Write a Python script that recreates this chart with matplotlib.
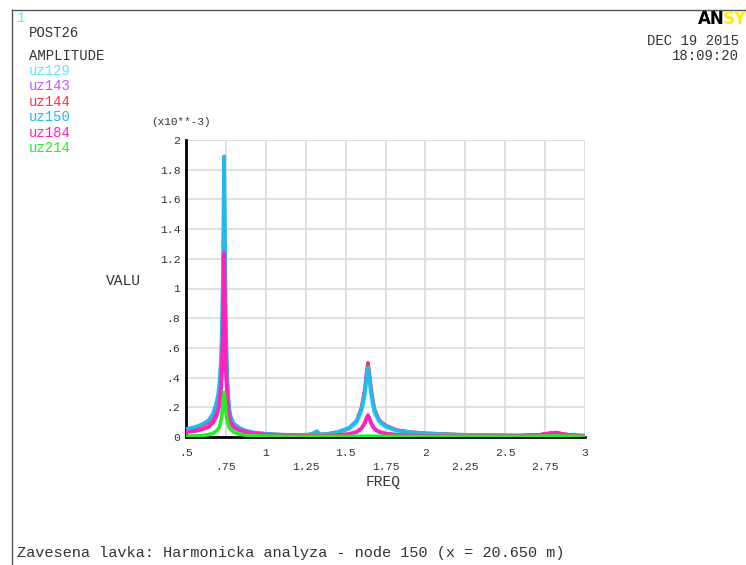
import matplotlib.pyplot as plt

# frequency points (denser near the peaks)
freq = [0.50, 0.55, 0.60, 0.64, 0.67, 0.69, 0.70, 0.71, 0.72, 0.725, 0.73, 0.735, 0.739, 0.743,
        0.75, 0.76, 0.77, 0.78, 0.80, 0.83, 0.87, 0.92, 1.00, 1.10, 1.20, 1.27, 1.30, 1.32, 1.34,
        1.38, 1.45, 1.52, 1.57, 1.60, 1.62, 1.63, 1.64, 1.65, 1.66, 1.68, 1.71, 1.75, 1.82, 1.90,
        2.00, 2.20, 2.40, 2.60, 2.72, 2.78, 2.82, 2.86, 2.92, 3.00]

# amplitudes in units of 1e-3
uz129 = [0.050, 0.058, 0.075, 0.097, 0.14, 0.20, 0.245, 0.32, 0.48, 0.65, 0.90, 1.20, 1.30, 1.15,
         0.62, 0.32, 0.17, 0.12, 0.08, 0.057, 0.040, 0.028, 0.019, 0.014, 0.012, 0.014, 0.022, 0.032, 0.015,
         0.017, 0.030, 0.052, 0.095, 0.17, 0.27, 0.36, 0.43, 0.36, 0.27, 0.16, 0.10, 0.066, 0.040, 0.029,
         0.022, 0.014, 0.011, 0.009, 0.011, 0.014, 0.016, 0.012, 0.009, 0.007]
uz143 = [0.033, 0.038, 0.050, 0.065, 0.095, 0.135, 0.165, 0.22, 0.32, 0.43, 0.60, 0.85, 1.00, 0.82,
         0.42, 0.21, 0.12, 0.09, 0.062, 0.046, 0.032, 0.023, 0.016, 0.011, 0.009, 0.008, 0.008, 0.009, 0.006,
         0.008, 0.011, 0.019, 0.033, 0.057, 0.09, 0.118, 0.14, 0.118, 0.09, 0.054, 0.033, 0.023, 0.014, 0.010,
         0.008, 0.006, 0.006, 0.008, 0.014, 0.024, 0.028, 0.019, 0.011, 0.008]
uz144 = [0.050, 0.060, 0.078, 0.10, 0.14, 0.19, 0.23, 0.29, 0.40, 0.52, 0.68, 0.82, 0.85, 0.80,
         0.55, 0.30, 0.17, 0.12, 0.08, 0.058, 0.040, 0.029, 0.020, 0.015, 0.013, 0.015, 0.024, 0.036, 0.016,
         0.019, 0.033, 0.058, 0.11, 0.20, 0.32, 0.42, 0.50, 0.42, 0.32, 0.19, 0.115, 0.078, 0.047, 0.034,
         0.025, 0.016, 0.012, 0.010, 0.015, 0.025, 0.030, 0.020, 0.011, 0.008]
uz150 = [0.055, 0.065, 0.085, 0.11, 0.16, 0.23, 0.28, 0.37, 0.55, 0.75, 1.05, 1.55, 1.89, 1.50,
         0.75, 0.38, 0.20, 0.14, 0.09, 0.065, 0.045, 0.032, 0.022, 0.016, 0.014, 0.017, 0.027, 0.040, 0.018,
         0.020, 0.034, 0.060, 0.11, 0.19, 0.30, 0.40, 0.47, 0.40, 0.30, 0.18, 0.11, 0.075, 0.045, 0.033,
         0.025, 0.016, 0.012, 0.010, 0.012, 0.016, 0.018, 0.013, 0.010, 0.008]
uz184 = [0.035, 0.040, 0.052, 0.068, 0.10, 0.145, 0.18, 0.24, 0.36, 0.49, 0.69, 1.02, 1.24, 1.00,
         0.50, 0.25, 0.14, 0.10, 0.068, 0.050, 0.035, 0.025, 0.017, 0.012, 0.010, 0.008, 0.008, 0.010, 0.006,
         0.008, 0.012, 0.020, 0.035, 0.060, 0.095, 0.125, 0.148, 0.125, 0.095, 0.057, 0.035, 0.024, 0.015, 0.011,
         0.008, 0.006, 0.006, 0.008, 0.015, 0.026, 0.030, 0.020, 0.012, 0.008]
uz214 = [0.005, 0.007, 0.010, 0.015, 0.025, 0.040, 0.050, 0.070, 0.11, 0.15, 0.20, 0.27, 0.30, 0.26,
         0.17, 0.10, 0.065, 0.050, 0.032, 0.020, 0.013, 0.009, 0.006, 0.005, 0.004, 0.004, 0.004, 0.005, 0.004,
         0.004, 0.004, 0.004, 0.005, 0.005, 0.006, 0.006, 0.006, 0.006, 0.006, 0.005, 0.005, 0.004, 0.004, 0.004,
         0.004, 0.004, 0.004, 0.004, 0.005, 0.007, 0.008, 0.006, 0.005, 0.004]

names = ['uz129', 'uz143', 'uz144', 'uz150', 'uz184', 'uz214']
series = [uz129, uz143, uz144, uz150, uz184, uz214]
colors = ['#55EEFF', '#C455FF', '#FF3344', '#22B8F0', '#FF22B8', '#22EE22']

xmajor = [0.5, 1, 1.5, 2, 2.5, 3]
xmajor_lab = ['.5', '1', '1.5', '2', '2.5', '3']
xminor = [0.75, 1.25, 1.75, 2.25, 2.75]
xminor_lab = ['.75', '1.25', '1.75', '2.25', '2.75']
yticks = [0, 0.2, 0.4, 0.6, 0.8, 1.0, 1.2, 1.4, 1.6, 1.8, 2.0]
ylab = ['0', '.2', '.4', '.6', '.8', '1', '1.2', '1.4', '1.6', '1.8', '2']

mono = 'Liberation Mono'
txt = '#333333'

fig = plt.figure(figsize=(7.46, 5.65), dpi=100)
ax = fig.add_axes([186 / 746, 1 - 437 / 565, 399 / 746, 297 / 565])

for s, c in zip(series, colors):
    ax.plot(freq, s, color=c, lw=2.6, solid_joinstyle='round', zorder=3)

ax.set_xlim(0.5, 3)
ax.set_ylim(0, 2)
ax.set_xticks(xmajor, xmajor_lab)
ax.set_xticks(xminor, xminor_lab, minor=True)
ax.set_yticks(yticks, ylab)
ax.tick_params(which='both', length=0, labelsize=8.2, labelcolor=txt)
ax.tick_params(axis='x', which='major', pad=8)
ax.tick_params(axis='x', which='minor', pad=18)
ax.tick_params(axis='y', pad=4)
for lab in ax.get_xticklabels(which='both') + ax.get_yticklabels():
    lab.set_family(mono)
ax.grid(True, which='both', color='#dddddd', lw=1.3, zorder=0)
ax.spines['top'].set_visible(False)
ax.spines['right'].set_visible(False)
ax.spines['left'].set_linewidth(2)
ax.spines['bottom'].set_linewidth(2)
ax.set_axisbelow(True)

fig.text(383 / 746, 1 - 482 / 565, 'FREQ', family=mono, fontsize=10.5, color=txt, ha='center', va='center')
fig.text(106 / 746, 1 - 281 / 565, 'VALU', family=mono, fontsize=10.5, color=txt, ha='left', va='center')
fig.text(151 / 746, 1 - 122 / 565, '(x10**-3)', family=mono, fontsize=8, color=txt, ha='left', va='center')

# header / legend text
fig.text(17 / 746, 1 - 18 / 565, '1', family=mono, fontsize=10, color='#55EEFF', va='center')
fig.text(29 / 746, 1 - 33 / 565, 'POST26', family=mono, fontsize=10, color=txt, va='center')
fig.text(29 / 746, 1 - 56 / 565, 'AMPLITUDE', family=mono, fontsize=10, color=txt, va='center')
for i, (n, c) in enumerate(zip(names, colors)):
    fig.text(29 / 746, 1 - (71 + i * 15.4) / 565, n, family=mono, fontsize=10, color=c, va='center')

fig.text(739 / 746, 1 - 41 / 565, 'DEC 19 2015', family=mono, fontsize=10, color=txt, ha='right', va='center')
fig.text(739 / 746, 1 - 56 / 565, '18:09:20', family=mono, fontsize=10, color=txt, ha='right', va='center')
# logo, cut off at the right edge as in the original window
fig.text(698 / 746, 1 - 19 / 565, 'AN', fontsize=12, weight='bold', color='black', va='center')
fig.text(723 / 746, 1 - 19 / 565, 'SY', fontsize=12, weight='bold', color='#FFEE00', va='center')

fig.text(17 / 746, 1 - 553 / 565, 'Zavesena lavka: Harmonicka analyza - node 150 (x = 20.650 m)',
         family=mono, fontsize=11, color=txt, va='center')

# window frame
fig.add_artist(plt.Line2D([12 / 746, 12 / 746], [0, 1 - 10 / 565], color='#555555', lw=1))
fig.add_artist(plt.Line2D([12 / 746, 1], [1 - 10 / 565, 1 - 10 / 565], color='#555555', lw=1))

fig.savefig('out.png', dpi=100)
